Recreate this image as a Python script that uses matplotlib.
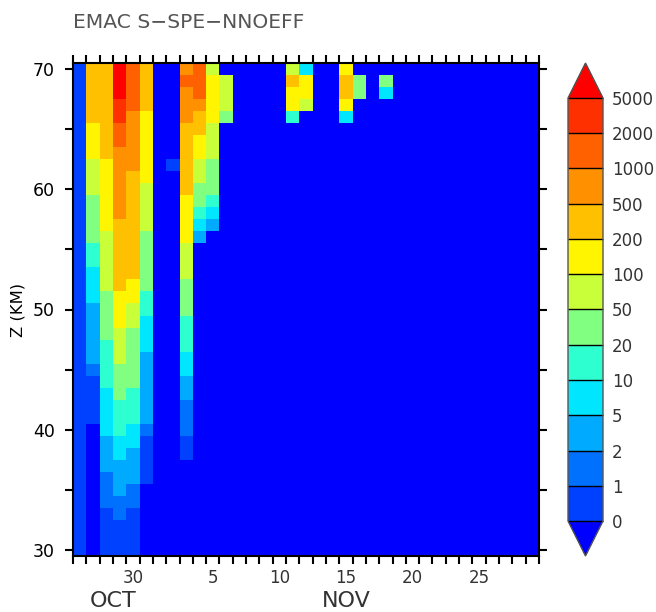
import numpy as np
import matplotlib
matplotlib.use('Agg')
import matplotlib.pyplot as plt
from matplotlib.colors import ListedColormap, BoundaryNorm

plt.rcParams['font.family'] = ['DejaVu Sans']

# contour levels and fill colours
levels = [0, 1, 2, 5, 10, 20, 50, 100, 200, 500, 1000, 2000, 5000]
level_labels = ['0', '1', '2', '5', '10', '20', '50', '100', '200', '500', '1000', '2000', '5000']
band_colors = ['#0040ff', '#0070ff', '#00aaff', '#00e6ff', '#2effd0', '#80ff80',
               '#c8ff38', '#fff500', '#ffc000', '#ff9000', '#ff6000', '#ff3000']
under_color = '#0000ff'
over_color = '#ff0000'

# heights, 70 km down to 30 km
z_km = np.arange(70, 29, -1)

# days run on from october, so nov 5 is 36
days = np.arange(26, 61)
day_ticks = [30, 36, 41, 46, 51, 56]
day_labels = ['30', '5', '10', '15', '20', '25']

# profiles, top (70 km) first, missing rows are background
background = -1
oct26 = [0.5] * 41
oct27 = [300] * 5 + [150] * 3 + [70] * 3 + [30] * 4 + [15] * 2 + [7] * 3 + [3] * 5 + [1.5] + [0.5] * 4
oct28 = [300] * 8 + [150] * 6 + [70] * 5 + [30] * 4 + [15] * 4 + [7] * 4 + [3] * 3 + [1.5] * 3 + [0.5] * 4
oct29 = [7000] * 3 + [3000] * 2 + [1500] * 2 + [700] * 6 + [300] * 6 + [150] * 3 + [70] * 3 + [30] * 3 + [15] * 3 + [7] * 2 + [3] * 3 + [1.5] * 2 + [0.5] * 3
oct30 = [1500] * 4 + [700] * 5 + [300] * 9 + [150] * 2 + [70] * 2 + [30] * 5 + [15] * 3 + [7] * 2 + [3] * 3 + [1.5] * 2 + [0.5] * 4
oct31 = [300] * 4 + [150] * 6 + [70] * 4 + [30] * 5 + [15] * 2 + [7] * 3 + [3] * 6 + [1.5] + [0.5] * 4
nov02 = [background] * 8 + [0.5]
nov03 = [700, 1500] + [700] * 3 + [300] * 6 + [150] * 4 + [70] * 3 + [30] * 3 + [15] * 3 + [7] * 2 + [3] * 2 + [1.5] * 3 + [0.5] * 2
nov04 = [1500] * 3 + [700] + [300] * 2 + [150] * 2 + [70] * 2 + [30] * 2 + [15, 7, 3]
nov05 = [70] + [150] * 4 + [70] * 3 + [30] * 3 + [15, 7, 3]
nov06 = [background] + [70] * 3 + [30]
nov11 = [70, 300, 150, 150, 15]
nov12 = [7, 150, 150, 70]
nov15 = [150, 300, 300, 150, 7]
nov16 = [background, 30, 30]
nov18 = [background, 30, 7]

profiles = {26: oct26, 27: oct27, 28: oct28, 29: oct29, 30: oct30, 31: oct31,
            33: nov02, 34: nov03, 35: nov04, 36: nov05, 37: nov06,
            42: nov11, 43: nov12, 46: nov15, 47: nov16, 49: nov18}

grid = np.full((len(z_km), len(days)), float(background))
for day, prof in profiles.items():
    grid[:len(prof), day - days[0]] = prof

cmap = ListedColormap(band_colors)
cmap.set_under(under_color)
cmap.set_over(over_color)
norm = BoundaryNorm(levels, cmap.N)

W, H = 656, 612
fig = plt.figure(figsize=(W / 100, H / 100), dpi=100)
ax = fig.add_axes([73 / W, 1 - 556 / H, 466 / W, 493 / H])

x_edges = np.append(days - 0.5, days[-1] + 0.5)
z_edges = np.append(z_km + 0.5, z_km[-1] - 0.5)
mesh = ax.pcolormesh(x_edges, z_edges, grid, cmap=cmap, norm=norm)

ax.set_xlim(x_edges[0], x_edges[-1])
ax.set_ylim(29.5, 70.5)
for side in ax.spines.values():
    side.set_linewidth(1.5)

# ticks sit on the cell edges, day labels in the middle of the cell
ax.set_xticks(x_edges)
ax.set_xticklabels([])
ax.set_xticks(day_ticks, minor=True)
ax.set_xticklabels(day_labels, minor=True, fontsize=12, color='#333333')
ax.tick_params(axis='x', which='major', direction='out', length=6, width=1.5, top=True)
ax.tick_params(axis='x', which='minor', length=0, pad=9.5)

ax.set_yticks(np.arange(30, 71, 5))
ax.set_yticklabels(['30', '', '40', '', '50', '', '60', '', '70'], fontsize=12.5)
ax.tick_params(axis='y', direction='out', length=6, width=1.5, right=True, pad=7)

fig.text(73 / W, 1 - 23 / H, 'EMAC S\u2212SPE\u2212NNOEFF', fontsize=14.6, color='#555555',
         ha='left', va='center')
fig.text(18 / W, 1 - 310 / H, 'Z (KM)', fontsize=11.8, rotation=90, ha='center', va='center')
fig.text(113 / W, 1 - 601 / H, 'OCT', fontsize=16, color='#333333', ha='center', va='center')
fig.text(346 / W, 1 - 601 / H, 'NOV', fontsize=16, color='#333333', ha='center', va='center')

# colour bar, the axes includes both end triangles
cax = fig.add_axes([568 / W, 1 - 556 / H, 35 / W, 493 / H])
cb = fig.colorbar(mesh, cax=cax, extend='both', extendfrac=35 / 423, drawedges=True)
cb.outline.set_edgecolor('#555555')
cb.outline.set_linewidth(1)
cb.dividers.set_color('black')
cb.dividers.set_linewidth(1)
cb.set_ticks(levels)
cb.set_ticklabels(level_labels, fontsize=12, color='#333333')
cb.ax.tick_params(length=0, pad=6.5)
cb.ax.minorticks_off()

plt.savefig('out.png', dpi=100)
plt.close()
